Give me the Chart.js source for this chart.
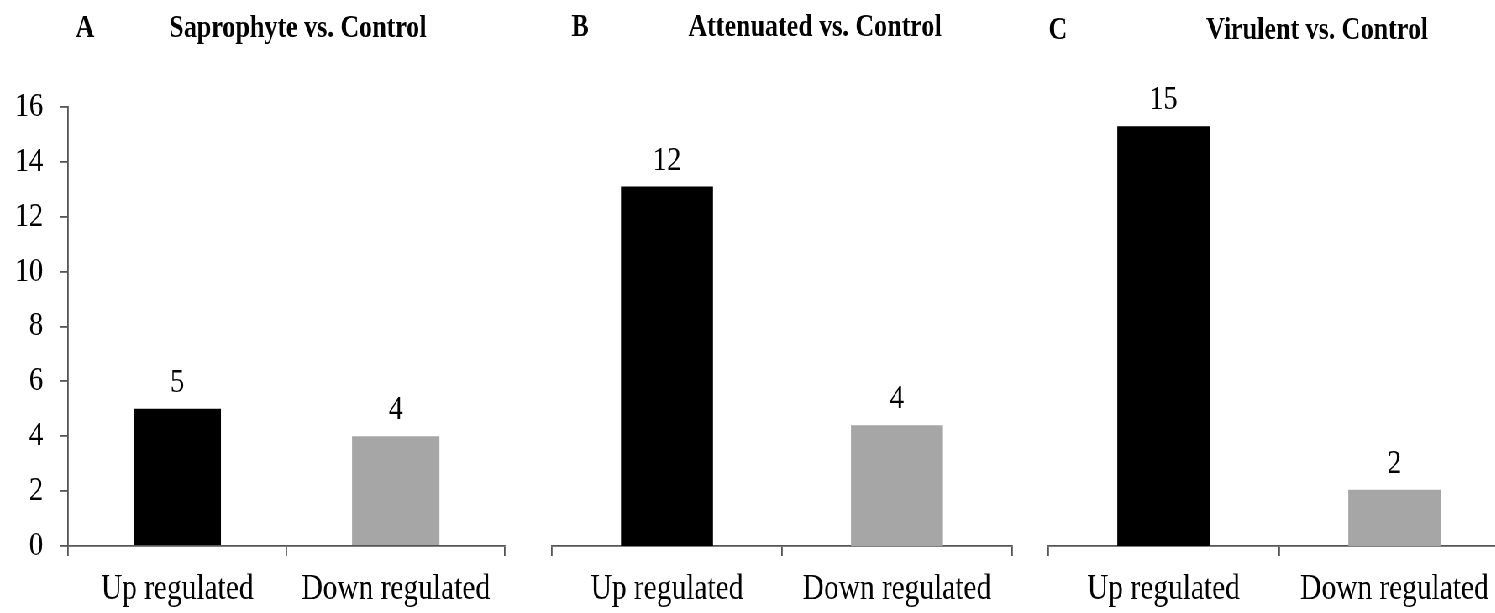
<!DOCTYPE html>
<html>
<head>
<meta charset="utf-8">
<script src="https://cdn.jsdelivr.net/npm/chart.js@4.4.1/dist/chart.umd.min.js"></script>
<style>
  html, body { margin: 0; padding: 0; overflow: hidden; background: #fff; width: 1495px; height: 613px; }
  /* the original figure is squeezed horizontally, so the whole drawing is too */
  #wrap { position: absolute; left: 0; top: 0; width: 1830px; height: 613px; transform: scaleX(0.84); transform-origin: 0 0; }
  .panel { position: absolute; top: 0; height: 613px; }
</style>
</head>
<body>
<div id="wrap">
  <div class="panel" id="pA"><canvas id="cA"></canvas></div>
  <div class="panel" id="pB"><canvas id="cB"></canvas></div>
  <div class="panel" id="pC"><canvas id="cC"></canvas></div>
</div>
<script>
// data
const categories = ["Up regulated", "Down regulated"];
const yTicks = [0, 2, 4, 6, 8, 10, 12, 14, 16];

// bar heights as drawn in the figure
const saprophyteValues = [5.0, 4.0];
const attenuatedValues = [13.1, 4.4];
const virulentValues = [15.3, 2.05];

// numbers printed above the bars
const saprophyteLabels = ["5", "4"];
const attenuatedLabels = ["12", "4"];
const virulentLabels = ["15", "2"];

const panelLetters = ["A", "B", "C"];
const panelTitles = ["Saprophyte vs. Control", "Attenuated vs. Control", "Virulent vs. Control"];

const barColors = ["#000000", "#a6a6a6"];
const axisColor = "#555555";
const S = 0.84;           // horizontal squeeze
const FONT = '"Liberation Serif", "Times New Roman", serif';

Chart.defaults.font.family = FONT;
Chart.defaults.color = "#000";

// screen positions of each panel (px)
const panels = [
  { box: "pA", canvas: "cA", left: 0,   width: 630, plotLeft: 68,   plotRight: 505,  letterX: 85,   titleX: 298,  titleY: 37, yAxis: true,
    values: saprophyteValues, labels: saprophyteLabels },
  { box: "pB", canvas: "cB", left: 630, width: 585, plotLeft: 552,  plotRight: 1012, letterX: 580,  titleX: 815,  titleY: 36, yAxis: false,
    values: attenuatedValues, labels: attenuatedLabels },
  { box: "pC", canvas: "cC", left: 1215, width: 615, plotLeft: 1048, plotRight: 1510, letterX: 1058, titleX: 1317, titleY: 39, yAxis: false,
    values: virulentValues, labels: virulentLabels }
];

const plotTop = 107;
const plotBottom = 546;

const panelText = {
  id: "panelText",
  afterDatasetsDraw(chart, args, opts) {
    const ctx = chart.ctx;
    ctx.save();
    ctx.fillStyle = "#000";
    ctx.textAlign = "center";
    ctx.textBaseline = "alphabetic";
    ctx.font = "bold 31px " + FONT;
    ctx.fillText(opts.letter, opts.letterX, opts.titleY);
    ctx.fillText(opts.title, opts.titleX, opts.titleY);
    ctx.font = "34px " + FONT;
    chart.getDatasetMeta(0).data.forEach((bar, i) => {
      ctx.fillText(opts.valueLabels[i], bar.x, bar.y - 17);
    });
    ctx.restore();
  }
};

panels.forEach((p, k) => {
  const box = document.getElementById(p.box);
  box.style.left = p.left + "px";
  box.style.width = p.width + "px";

  const left = p.plotLeft / S - p.left;
  const right = p.left + p.width - p.plotRight / S;

  new Chart(document.getElementById(p.canvas), {
    type: "bar",
    data: {
      labels: categories,
      datasets: [{
        data: p.values,
        backgroundColor: barColors,
        borderWidth: 0,
        barPercentage: 0.4,
        categoryPercentage: 1.0
      }]
    },
    options: {
      responsive: true,
      maintainAspectRatio: false,
      animation: false,
      layout: { padding: { top: plotTop, bottom: 0, left: p.yAxis ? 0 : left, right: right } },
      plugins: {
        legend: { display: false },
        tooltip: { enabled: false },
        panelText: {
          letter: panelLetters[k],
          title: panelTitles[k],
          letterX: p.letterX / S - p.left,
          titleX: p.titleX / S - p.left,
          titleY: p.titleY,
          valueLabels: p.labels
        }
      },
      scales: {
        x: {
          grid: { offset: true, drawOnChartArea: false, drawTicks: true, tickLength: 10, color: axisColor, lineWidth: 1.8 },
          border: { display: true, color: axisColor, width: 1.8 },
          ticks: { font: { size: 35 }, color: "#000", padding: 13, maxRotation: 0 },
          afterFit(scale) { scale.height = 613 - plotBottom; }
        },
        y: {
          display: p.yAxis,
          min: 0,
          max: 16,
          afterBuildTicks(scale) { scale.ticks = yTicks.map(v => ({ value: v })); },
          grid: { drawOnChartArea: false, drawTicks: true, tickLength: 8 / S, color: axisColor, lineWidth: 1.8 },
          border: { display: true, color: axisColor, width: 1.8 },
          ticks: { font: { size: 34 }, color: "#000", padding: 20 },
          afterFit(scale) { scale.width = p.yAxis ? left : 0; }
        }
      }
    },
    plugins: [panelText]
  });
});
</script>
</body>
</html>
